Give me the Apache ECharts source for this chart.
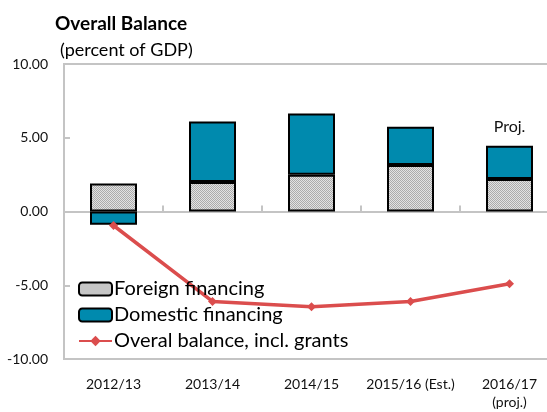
<!DOCTYPE html>
<html>
<head>
<meta charset="utf-8">
<script src="https://cdn.jsdelivr.net/npm/echarts@6/dist/echarts.min.js"></script>
<style>
    html, body { margin: 0; padding: 0; background: #fff; }
    #container { width: 547px; height: 412px; }
</style>
</head>
<body>
<div id="container"></div>
<script>
    var years = ['2012/13', '2013/14', '2014/15', '2015/16 (Est.)', '2016/17\n(proj.)'];
    var foreign = [1.9, 2.0, 2.5, 3.15, 2.2];
    var domestic = [-0.9, 4.1, 4.15, 2.6, 2.25];
    var balance = [-0.95, -6.1, -6.45, -6.1, -4.9];
    var yTicks = [-10, -5, 0, 5, 10];

    // small checker pattern for the hatched grey bars
    var pat = document.createElement('canvas');
    pat.width = 2; pat.height = 2;
    var ctx = pat.getContext('2d');
    ctx.fillStyle = '#e2e2e2'; ctx.fillRect(0, 0, 2, 2);
    ctx.fillStyle = '#ababab'; ctx.fillRect(0, 0, 1, 1); ctx.fillRect(1, 1, 1, 1);

    var font = 'Lato, "Open Sans", sans-serif';
    var gray = '#c4c4c4';

    var domesticData = domestic.map(function (v, i) {
        if (i == domestic.length - 1) {
            return {value: v, label: {show: true, position: 'top', distance: 11, formatter: 'Proj.',
                color: '#111', fontSize: 16, fontFamily: font}};
        }
        return v;
    });

    var myChart = echarts.init(document.getElementById('container'));
    var option = {
        animation: false,
        title: [
            {text: 'Overall Balance', left: 50, top: 9,
                textStyle: {fontFamily: font, fontWeight: 'bold', fontSize: 19, color: '#000'}},
            {text: '(percent of GDP)', left: 55, top: 36,
                textStyle: {fontFamily: font, fontWeight: 'normal', fontSize: 18, color: '#000'}}
        ],
        grid: {left: 64, top: 64, width: 495, height: 295, show: true, outerBoundsMode: 'none',
            containLabel: false, borderColor: gray, borderWidth: 2, backgroundColor: 'transparent'},
        legend: {
            orient: 'vertical', left: 73, top: 274, itemGap: 6,
            itemWidth: 33, itemHeight: 13,
            textStyle: {fontFamily: font, fontSize: 20, color: '#000', padding: [0, 0, 0, -3]},
            data: ['Foreign financing', 'Domestic financing', 'Overal balance, incl. grants']
        },
        xAxis: [
            {
                type: 'category', data: years,
                axisLine: {onZero: true, lineStyle: {color: gray, width: 2}},
                axisTick: {show: true, inside: true, length: 6, lineStyle: {color: gray, width: 2}},
                axisLabel: {show: false}
            },
            {
                type: 'category', data: years, position: 'bottom',
                axisLine: {show: false}, axisTick: {show: false},
                axisLabel: {interval: 0, fontFamily: font, fontSize: 14, color: '#111', margin: 16, lineHeight: 18}
            }
        ],
        yAxis: {
            type: 'value', min: yTicks[0], max: yTicks[yTicks.length - 1], interval: 5,
            axisLine: {show: true, lineStyle: {color: gray, width: 2}},
            axisTick: {show: true, inside: true, length: 6, lineStyle: {color: gray, width: 2}},
            splitLine: {show: false},
            axisLabel: {fontFamily: font, fontSize: 14, color: '#111', margin: 16,
                formatter: function (v) { return v.toFixed(2); }}
        },
        series: [
            {
                name: 'Foreign financing', type: 'bar', stack: 'fin', barWidth: 47,
                itemStyle: {color: {image: pat, repeat: 'repeat'}, borderColor: '#000', borderWidth: 2},
                data: foreign
            },
            {
                name: 'Domestic financing', type: 'bar', stack: 'fin', barWidth: 47,
                itemStyle: {color: '#008aae', borderColor: '#000', borderWidth: 2},
                data: domesticData
            },
            {
                name: 'Overal balance, incl. grants', type: 'line',
                symbol: 'diamond', symbolSize: 9,
                lineStyle: {color: '#db4d4d', width: 3.5},
                itemStyle: {color: '#db4d4d'},
                data: balance
            }
        ]
    };
    myChart.setOption(option);
</script>
</body>
</html>
